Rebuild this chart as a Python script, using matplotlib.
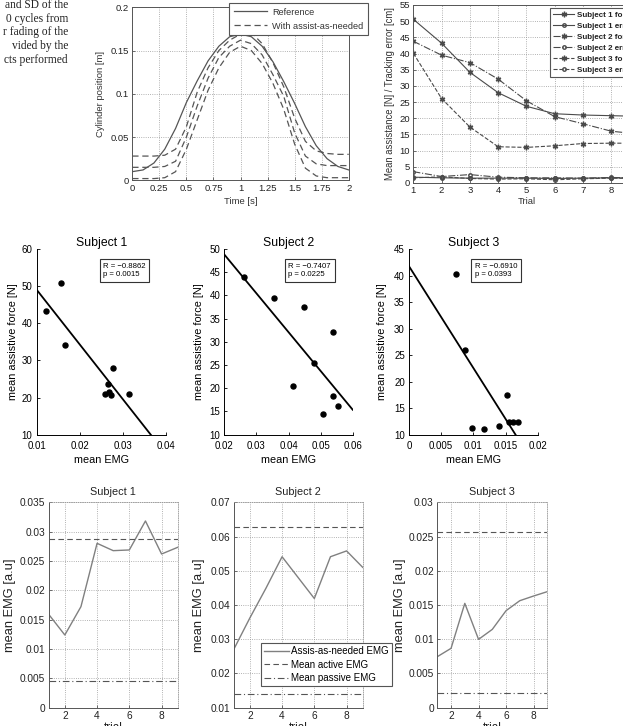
import numpy as np
import matplotlib
matplotlib.use("Agg")
import matplotlib.pyplot as plt

plt.rcParams['font.family'] = ['Liberation Sans', 'DejaVu Sans']

# --- top left: cylinder position over one cycle
time_s = [0, 0.1, 0.2, 0.3, 0.4, 0.5, 0.6, 0.7, 0.8, 0.9, 1.0,
          1.1, 1.2, 1.3, 1.4, 1.5, 1.6, 1.7, 1.8, 1.9, 2.0]
pos_ref = [0.010, 0.012, 0.020, 0.036, 0.060, 0.090, 0.115, 0.138, 0.155, 0.166, 0.169,
           0.166, 0.155, 0.137, 0.114, 0.089, 0.062, 0.040, 0.025, 0.016, 0.012]
pos_hi = [0.028, 0.028, 0.028, 0.029, 0.036, 0.062, 0.102, 0.130, 0.150, 0.162, 0.169,
          0.171, 0.158, 0.136, 0.108, 0.072, 0.045, 0.034, 0.031, 0.030, 0.030]
pos_mid = [0.015, 0.015, 0.015, 0.016, 0.022, 0.050, 0.086, 0.118, 0.142, 0.155, 0.162,
           0.158, 0.145, 0.122, 0.097, 0.055, 0.028, 0.019, 0.017, 0.017, 0.017]
pos_lo = [0.002, 0.002, 0.002, 0.003, 0.010, 0.036, 0.070, 0.104, 0.130, 0.148, 0.155,
          0.150, 0.135, 0.112, 0.082, 0.042, 0.014, 0.005, 0.003, 0.003, 0.003]
time_ticks = [0, 0.25, 0.5, 0.75, 1, 1.25, 1.5, 1.75, 2]
time_labels = ['0', '0.25', '0.5', '0.75', '1', '1.25', '1.5', '1.75', '2']
pos_ticks = [0, 0.05, 0.1, 0.15, 0.2]
pos_labels = ['0', '0.05', '0.1', '0.15', '0.2']

# --- top right: assistance / tracking error per trial
trials = [1, 2, 3, 4, 5, 6, 7, 8, 9]
s1_force = [50.6, 43.2, 34.2, 27.9, 23.7, 21.4, 21.0, 20.8, 20.6]
s1_error = [1.8, 1.6, 1.5, 1.5, 1.5, 1.4, 1.5, 1.6, 1.5]
s2_force = [43.8, 39.5, 37.2, 32.1, 25.4, 20.5, 18.3, 16.0, 15.1]
s2_error = [3.5, 2.0, 2.6, 1.8, 1.6, 1.6, 1.5, 1.7, 1.6]
s3_force = [40.1, 26.1, 17.3, 11.2, 11.0, 11.5, 12.2, 12.3, 12.3]
s3_error = [1.6, 1.9, 1.4, 1.2, 1.3, 1.0, 1.3, 1.5, 1.4]

# --- middle: force vs EMG scatter
emg_1 = [0.01216, 0.01572, 0.01665, 0.02593, 0.02647, 0.02678, 0.02725, 0.02778, 0.0315]
force_1 = [43.3, 50.8, 34.2, 20.95, 23.7, 21.5, 20.6, 27.9, 20.95]
emg_2 = [0.02603, 0.03558, 0.04494, 0.05377, 0.04784, 0.0413, 0.05377, 0.05532, 0.05075]
force_2 = [43.9, 39.5, 37.4, 32.1, 25.4, 20.4, 18.4, 16.1, 14.45]
emg_3 = [0.00725, 0.00865, 0.00979, 0.01166, 0.01404, 0.01528, 0.01549, 0.01622, 0.01694]
force_3 = [40.3, 25.96, 11.26, 11.07, 11.57, 17.48, 12.33, 12.33, 12.33]
stats = ['R = \u22120.8862\np = 0.0015', 'R = \u22120.7407\np = 0.0225', 'R = \u22120.6910\np = 0.0393']

# --- bottom: mean EMG per trial
emg_trial_1 = [0.01591, 0.01239, 0.01722, 0.02801, 0.02676, 0.02688, 0.03182, 0.02619, 0.02733]
emg_trial_2 = [0.0270, 0.0362, 0.0449, 0.0541, 0.0480, 0.0419, 0.0541, 0.0558, 0.0510]
emg_trial_3 = [0.00745, 0.00867, 0.01524, 0.00998, 0.01144, 0.01417, 0.01563, 0.01631, 0.01695]
active_emg = [0.02881, 0.0628, 0.02567]
passive_emg = [0.004545, 0.0140, 0.00209]

W, H = 623, 726
fig = plt.figure(figsize=(W / 100, H / 100), dpi=100)


def box(l, t, r, b):
    return [l / W, 1 - b / H, (r - l) / W, (b - t) / H]


def matlab_style(ax, size):
    for s in ax.spines.values():
        s.set_color('#555555')
        s.set_linewidth(0.7)
    ax.tick_params(direction='in', length=2.5, width=0.6, labelsize=size,
                   colors='#555555', labelcolor='#222222', pad=2.5)
    ax.grid(True, ls=':', color='#999999', lw=0.6)


# paragraph fragment from the page
para = ['and SD of the', '0 cycles from', 'r fading of the', 'vided by the', 'cts performed']
for i, line in enumerate(para):
    fig.text(68 / W, 1 - (5 + 13.75 * i) / H, line, ha='right', va='center',
             family='Liberation Serif', fontsize=8.3, color='#222222')

# top left
ax = fig.add_axes(box(132.3, 7.3, 348.7, 180.3))
ax.plot(time_s, pos_ref, color='#555555', lw=0.9, label='Reference')
ax.plot(time_s, pos_hi, color='#555555', lw=0.9, ls=(0, (5, 3)), label='With assist-as-needed')
ax.plot(time_s, pos_mid, color='#555555', lw=0.9, ls=(0, (5, 3)))
ax.plot(time_s, pos_lo, color='#555555', lw=0.9, ls=(0, (5, 3)))
ax.set_xlim(0, 2)
ax.set_ylim(0, 0.2)
ax.set_xticks(time_ticks)
ax.set_xticklabels(time_labels)
ax.set_yticks(pos_ticks)
ax.set_yticklabels(pos_labels)
matlab_style(ax, 6.8)
ax.set_xlabel('Time [s]', fontsize=6.8, color='#333333')
ax.xaxis.set_label_coords(0.5, -0.097)
ax.xaxis.label.set_va('top')
ax.set_ylabel('Cylinder position [m]', fontsize=6.8, color='#333333')
ax.yaxis.set_label_coords(-0.126, 0.5)
leg = ax.legend(loc='upper left', bbox_to_anchor=(229 / W, 1 - 3 / H),
                bbox_transform=fig.transFigure, fontsize=6.6, fancybox=False,
                edgecolor='#555555', framealpha=1, borderaxespad=0,
                handlelength=3.6, handletextpad=0.6, labelspacing=0.55, borderpad=0.5)
leg.get_frame().set_linewidth(0.8)
for txt in leg.get_texts():
    txt.set_color('#333333')

# top right
ax = fig.add_axes(box(413.3, 5, 639.6, 183))
star = (6, 2, 0)
ax.plot(trials, s1_force, color='#4a4a4a', lw=0.8, ls='-', marker=star, ms=4, label='Subject 1 force')
ax.plot(trials, s1_error, color='#4a4a4a', lw=0.8, ls='-', marker='o', ms=2.5, mfc='none', label='Subject 1 error')
ax.plot(trials, s2_force, color='#4a4a4a', lw=0.8, ls='-.', marker=star, ms=4, label='Subject 2 force')
ax.plot(trials, s2_error, color='#4a4a4a', lw=0.8, ls='-.', marker='o', ms=2.5, mfc='none', label='Subject 2 error')
ax.plot(trials, s3_force, color='#4a4a4a', lw=0.8, ls='--', marker=star, ms=4, label='Subject 3 force')
ax.plot(trials, s3_error, color='#4a4a4a', lw=0.8, ls='--', marker='o', ms=2.5, mfc='none', label='Subject 3 error')
ax.set_xlim(1, 9)
ax.set_ylim(0, 55)
ax.set_xticks(trials)
ax.set_yticks(np.arange(0, 56, 5))
matlab_style(ax, 6.8)
ax.set_xlabel('Trial', fontsize=6.8, color='#333333')
ax.xaxis.set_label_coords(0.5, -0.079)
ax.xaxis.label.set_va('top')
ax.set_ylabel('Mean assistance [N] / Tracking error [cm]', fontsize=6.85, color='#333333')
ax.yaxis.set_label_coords(-0.083, 0.5)
leg = ax.legend(loc='upper left', bbox_to_anchor=(550 / W, 1 - 8 / H),
                bbox_transform=fig.transFigure, fontsize=5.8, fancybox=False,
                edgecolor='#555555', framealpha=1, borderaxespad=0,
                handlelength=2.6, handletextpad=0.4, labelspacing=0.42, borderpad=0.4)
leg.get_frame().set_linewidth(0.8)
for txt in leg.get_texts():
    txt.set_color('#222222')
    txt.set_fontweight('bold')

# middle row scatter
mid_boxes = [(36.7, 166.0), (224.3, 352.7), (409.0, 537.7)]
mid_x = [emg_1, emg_2, emg_3]
mid_y = [force_1, force_2, force_3]
mid_xlim = [(0.01, 0.04), (0.02, 0.06), (0, 0.02)]
mid_ylim = [(10, 60), (10, 50), (10, 45)]
mid_xticks = [[0.01, 0.02, 0.03, 0.04], [0.02, 0.03, 0.04, 0.05, 0.06], [0, 0.005, 0.01, 0.015, 0.02]]
mid_xlabels = [['0.01', '0.02', '0.03', '0.04'], ['0.02', '0.03', '0.04', '0.05', '0.06'],
               ['0', '0.005', '0.01', '0.015', '0.02']]
mid_ystep = [10, 5, 5]
mid_ylab_x = [-0.148, -0.158, -0.171]
stat_x = [103, 288.5, 474.5]
for i in range(3):
    l, r = mid_boxes[i]
    ax = fig.add_axes(box(l, 249, r, 434.7))
    ax.plot(mid_x[i], mid_y[i], 'o', color='k', ms=3.6)
    fit = np.polyfit(mid_x[i], mid_y[i], 1)
    xs = np.array(mid_xlim[i])
    ax.plot(xs, np.polyval(fit, xs), color='k', lw=1.3)
    ax.set_xlim(mid_xlim[i])
    ax.set_ylim(mid_ylim[i])
    ax.set_xticks(mid_xticks[i])
    ax.set_xticklabels(mid_xlabels[i])
    ax.set_yticks(np.arange(mid_ylim[i][0], mid_ylim[i][1] + 1, mid_ystep[i]))
    ax.spines['top'].set_visible(False)
    ax.spines['right'].set_visible(False)
    for s in ('left', 'bottom'):
        ax.spines[s].set_linewidth(0.7)
    ax.tick_params(direction='in', length=2.5, width=0.6, labelsize=7)
    ax.tick_params(axis='x', pad=4.5)
    ax.tick_params(axis='y', pad=3)
    ax.set_title('Subject %d' % (i + 1), fontsize=8.8, pad=2)
    ax.set_xlabel('mean EMG', fontsize=7.8)
    ax.xaxis.set_label_coords(0.5, -0.109)
    ax.xaxis.label.set_va('top')
    ax.set_ylabel('mean assistive force [N]', fontsize=7.8)
    ax.yaxis.set_label_coords(mid_ylab_x[i], 0.5)
    fig.text(stat_x[i] / W, 1 - 263 / H, stats[i], ha='left', va='top', fontsize=5.6,
             linespacing=1.25,
             bbox=dict(boxstyle='square,pad=0.45', fc='white', ec='#333333', lw=0.8))

# bottom row
bot_boxes = [(48.7, 177.7), (233.7, 362.7), (437.3, 547.3)]
bot_y = [emg_trial_1, emg_trial_2, emg_trial_3]
bot_ylim = [(0, 0.035), (0.01, 0.07), (0, 0.03)]
bot_yticks = [[0, 0.005, 0.01, 0.015, 0.02, 0.025, 0.03, 0.035],
              [0.01, 0.02, 0.03, 0.04, 0.05, 0.06, 0.07],
              [0, 0.005, 0.01, 0.015, 0.02, 0.025, 0.03]]
bot_ylabels = [['0', '0.005', '0.01', '0.015', '0.02', '0.025', '0.03', '0.035'],
               ['0.01', '0.02', '0.03', '0.04', '0.05', '0.06', '0.07'],
               ['0', '0.005', '0.01', '0.015', '0.02', '0.025', '0.03']]
bot_ylab_x = [-0.253, -0.219, -0.289]
for i in range(3):
    l, r = bot_boxes[i]
    ax = fig.add_axes(box(l, 502.3, r, 707.7))
    ax.plot(trials, bot_y[i], color='#808080', lw=1.0, label='Assis-as-needed EMG')
    ax.axhline(active_emg[i], color='#555555', lw=0.8, ls=(0, (5, 3)), label='Mean active EMG')
    ax.axhline(passive_emg[i], color='#555555', lw=0.8, ls=(0, (6, 2.5, 1, 2.5)), label='Mean passive EMG')
    ax.set_xlim(1, 9)
    ax.set_ylim(bot_ylim[i])
    ax.set_xticks([2, 4, 6, 8])
    ax.set_yticks(bot_yticks[i])
    ax.set_yticklabels(bot_ylabels[i])
    matlab_style(ax, 7.3)
    for s in ('top', 'right'):
        ax.spines[s].set_linestyle(':')
        ax.spines[s].set_color('#999999')
        ax.spines[s].set_linewidth(0.6)
    ax.set_title('Subject %d' % (i + 1), fontsize=7.8, pad=5, color='#222222')
    ax.set_xlabel('trial', fontsize=8.5, color='#222222')
    ax.xaxis.set_label_coords(0.5, -0.07)
    ax.xaxis.label.set_va('top')
    ax.set_ylabel('mean EMG [a.u]', fontsize=9.3, color='#222222')
    ax.yaxis.set_label_coords(bot_ylab_x[i], 0.5)
    if i == 1:
        leg = ax.legend(loc='upper left', bbox_to_anchor=(261 / W, 1 - 642.7 / H),
                        bbox_transform=fig.transFigure, fontsize=7, fancybox=False,
                        edgecolor='#555555', framealpha=1, borderaxespad=0,
                        handlelength=2.5, handletextpad=0.2, labelspacing=0.35, borderpad=0.35)
        leg.get_frame().set_linewidth(0.8)
        leg.set_zorder(10)

fig.savefig('out.png', dpi=100)
